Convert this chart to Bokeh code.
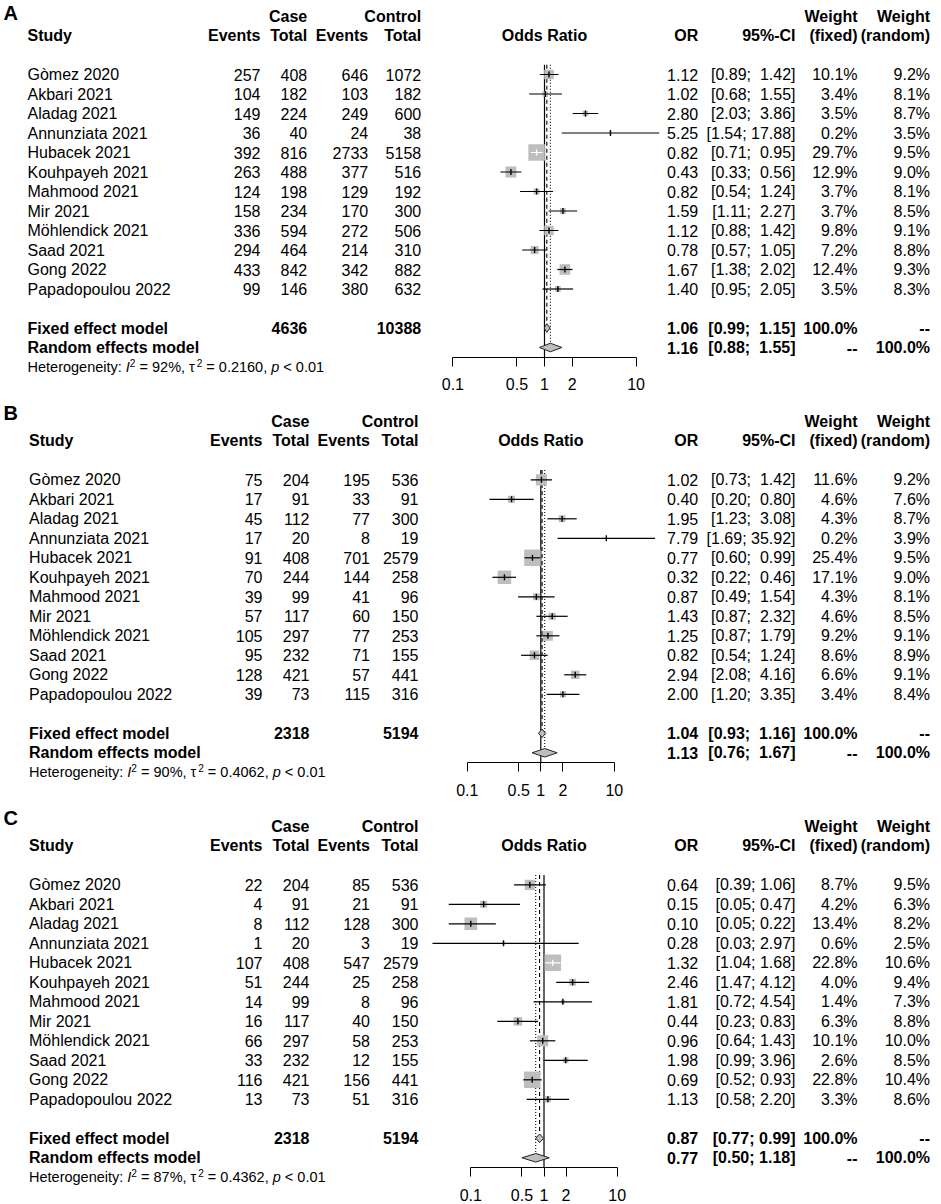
import math
from bokeh.plotting import figure
from bokeh.layouts import column
from bokeh.models import Range1d, LogAxis, FixedTicker, CustomJSTickFormatter
from bokeh.core.properties import value
from bokeh.embed import file_html
from bokeh.resources import INLINE

FONT = "Liberation Sans"

# ---------------- data ----------------
studies = ["Gòmez 2020", "Akbari 2021", "Aladag 2021", "Annunziata 2021", "Hubacek 2021",
           "Kouhpayeh 2021", "Mahmood 2021", "Mir 2021", "Möhlendick 2021", "Saad 2021",
           "Gong 2022", "Papadopoulou 2022"]
tick_values = [0.1, 0.5, 1, 2, 10]

A_case_events = [257, 104, 149, 36, 392, 263, 124, 158, 336, 294, 433, 99]
A_case_total = [408, 182, 224, 40, 816, 488, 198, 234, 594, 464, 842, 146]
A_ctrl_events = [646, 103, 249, 24, 2733, 377, 129, 170, 272, 214, 342, 380]
A_ctrl_total = [1072, 182, 600, 38, 5158, 516, 192, 300, 506, 310, 882, 632]
A_or = [1.12, 1.02, 2.80, 5.25, 0.82, 0.43, 0.82, 1.59, 1.12, 0.78, 1.67, 1.40]
A_lo = [0.89, 0.68, 2.03, 1.54, 0.71, 0.33, 0.54, 1.11, 0.88, 0.57, 1.38, 0.95]
A_hi = [1.42, 1.55, 3.86, 17.88, 0.95, 0.56, 1.24, 2.27, 1.42, 1.05, 2.02, 2.05]
A_w_fixed = [10.1, 3.4, 3.5, 0.2, 29.7, 12.9, 3.7, 3.7, 9.8, 7.2, 12.4, 3.5]
A_w_random = [9.2, 8.1, 8.7, 3.5, 9.5, 9.0, 8.1, 8.5, 9.1, 8.8, 9.3, 8.3]
A_totals = [4636, 10388]
A_fixed = [1.06, 0.99, 1.15]
A_random = [1.16, 0.88, 1.55]
A_het = ["92%", "0.2160", "< 0.01"]

B_case_events = [75, 17, 45, 17, 91, 70, 39, 57, 105, 95, 128, 39]
B_case_total = [204, 91, 112, 20, 408, 244, 99, 117, 297, 232, 421, 73]
B_ctrl_events = [195, 33, 77, 8, 701, 144, 41, 60, 77, 71, 57, 115]
B_ctrl_total = [536, 91, 300, 19, 2579, 258, 96, 150, 253, 155, 441, 316]
B_or = [1.02, 0.40, 1.95, 7.79, 0.77, 0.32, 0.87, 1.43, 1.25, 0.82, 2.94, 2.00]
B_lo = [0.73, 0.20, 1.23, 1.69, 0.60, 0.22, 0.49, 0.87, 0.87, 0.54, 2.08, 1.20]
B_hi = [1.42, 0.80, 3.08, 35.92, 0.99, 0.46, 1.54, 2.32, 1.79, 1.24, 4.16, 3.35]
B_w_fixed = [11.6, 4.6, 4.3, 0.2, 25.4, 17.1, 4.3, 4.6, 9.2, 8.6, 6.6, 3.4]
B_w_random = [9.2, 7.6, 8.7, 3.9, 9.5, 9.0, 8.1, 8.5, 9.1, 8.9, 9.1, 8.4]
B_totals = [2318, 5194]
B_fixed = [1.04, 0.93, 1.16]
B_random = [1.13, 0.76, 1.67]
B_het = ["90%", "0.4062", "< 0.01"]

C_case_events = [22, 4, 8, 1, 107, 51, 14, 16, 66, 33, 116, 13]
C_case_total = [204, 91, 112, 20, 408, 244, 99, 117, 297, 232, 421, 73]
C_ctrl_events = [85, 21, 128, 3, 547, 25, 8, 40, 58, 12, 156, 51]
C_ctrl_total = [536, 91, 300, 19, 2579, 258, 96, 150, 253, 155, 441, 316]
C_or = [0.64, 0.15, 0.10, 0.28, 1.32, 2.46, 1.81, 0.44, 0.96, 1.98, 0.69, 1.13]
C_lo = [0.39, 0.05, 0.05, 0.03, 1.04, 1.47, 0.72, 0.23, 0.64, 0.99, 0.52, 0.58]
C_hi = [1.06, 0.47, 0.22, 2.97, 1.68, 4.12, 4.54, 0.83, 1.43, 3.96, 0.93, 2.20]
C_w_fixed = [8.7, 4.2, 13.4, 0.6, 22.8, 4.0, 1.4, 6.3, 10.1, 2.6, 22.8, 3.3]
C_w_random = [9.5, 6.3, 8.2, 2.5, 10.6, 9.4, 7.3, 8.8, 10.0, 8.5, 10.4, 8.6]
C_totals = [2318, 5194]
C_fixed = [0.87, 0.77, 0.99]
C_random = [0.77, 0.50, 1.18]
C_het = ["87%", "0.4362", "< 0.01"]

# ---------------- layout (page pixels) ----------------
W = 941
ROW = 19.5
LAYOUT = {
    "A": dict(top=0, height=397, base=15.5, c1=544.0, dec=91.6, label_k=-0.15,
              study=27.0, ev=260.0, tot=306.7, cev=367.7, ctot=420.7),
    "B": dict(top=397, height=405, base=420.8, c1=540.3, dec=73.5, label_k=-0.45,
              study=28.5, ev=262.0, tot=309.0, cev=369.5, ctot=418.0),
    "C": dict(top=802, height=402, base=825.8, c1=543.5, dec=73.2, label_k=-0.45,
              study=28.5, ev=262.0, tot=309.0, cev=369.5, ctot=418.0),
}
RIGHT = dict(orx=697.7, ci=795.0, wf=857.0, wr=929.5)

CW = {' ': 0.278, ':': 0.278, ',': 0.278, '.': 0.278, '%': 0.889, '=': 0.584, '<': 0.584,
      'H': 0.722, 'e': 0.556, 't': 0.278, 'r': 0.333, 'o': 0.556, 'g': 0.556, 'n': 0.556,
      'i': 0.222, 'y': 0.5, 'I': 0.278, 'p': 0.556, 'τ': 0.52}


def tw(s, size):
    return sum(CW.get(c, 0.556) for c in s) * size


def make_panel(label, ce, ct, xe, xt, orv, lo, hi, wf, wr, totals, fixed, random_, het):
    L = LAYOUT[label]
    c1, dec = L["c1"], L["dec"]

    def X(px):
        return 10 ** ((px - c1) / dec)

    k_top = (L["top"] - L["base"]) / ROW
    k_bot = (L["top"] + L["height"] - L["base"]) / ROW
    p = figure(width=W, height=L["height"], x_axis_type="log", x_axis_location=None,
               y_axis_location=None, x_range=Range1d(X(0), X(W)),
               y_range=Range1d(k_bot, k_top), output_backend="svg", toolbar_location=None,
               min_border=0, outline_line_color=None)
    p.grid.visible = False
    p.background_fill_color = "white"
    p.border_fill_color = "white"

    def txt(xs, ys, texts, align="right", bold=False, size="16px", style=None):
        p.text(x=xs, y=ys, text=texts, text_font=value(FONT), text_font_size=size,
               text_align=align, text_baseline="middle",
               text_font_style=style if style else ("bold" if bold else "normal"),
               text_color="black")

    n = len(studies)
    rows = [3 + i for i in range(n)]
    kf, kr, kh = 16, 17, 18

    # panel label
    txt([X(3)], [L["label_k"]], [label], align="left", bold=True, size="20px")

    # headers
    txt([X(L["tot"]), X(L["ctot"]), X(RIGHT["wf"]), X(RIGHT["wr"])], [0] * 4,
        ["Case", "Control", "Weight", "Weight"], bold=True)
    txt([X(L["study"])], [1], ["Study"], align="left", bold=True)
    txt([X(L["ev"]), X(L["tot"]), X(L["cev"]), X(L["ctot"]), X(RIGHT["orx"]), X(RIGHT["ci"]),
         X(RIGHT["wf"]), X(RIGHT["wr"])], [1] * 8,
        ["Events", "Total", "Events", "Total", "OR", "95%-CI", "(fixed)", "(random)"], bold=True)
    txt([1], [1], ["Odds Ratio"], align="center", bold=True)

    # study rows
    txt([X(L["study"])] * n, rows, studies, align="left")
    txt([X(L["ev"])] * n, rows, [str(v) for v in ce])
    txt([X(L["tot"])] * n, rows, [str(v) for v in ct])
    txt([X(L["cev"])] * n, rows, [str(v) for v in xe])
    txt([X(L["ctot"])] * n, rows, [str(v) for v in xt])

    width_hi = max(len(f"{v:.2f}") for v in list(hi) + [fixed[2], random_[2]])

    def ci(a, b):
        s = f"{b:.2f}"
        return f"[{a:.2f}; " + "\u00a0" * (width_hi - len(s)) + s + "]"

    txt([X(RIGHT["orx"])] * n, rows, [f"{v:.2f}" for v in orv])
    txt([X(RIGHT["ci"])] * n, rows, [ci(a, b) for a, b in zip(lo, hi)])
    txt([X(RIGHT["wf"])] * n, rows, [f"{v:.1f}%" for v in wf])
    txt([X(RIGHT["wr"])] * n, rows, [f"{v:.1f}%" for v in wr])

    # summary rows
    txt([X(L["study"])] * 2, [kf, kr], ["Fixed effect model", "Random effects model"],
        align="left", bold=True)
    txt([X(L["tot"]), X(L["ctot"])], [kf, kf], [str(totals[0]), str(totals[1])], bold=True)
    txt([X(RIGHT["orx"])] * 2, [kf, kr], [f"{fixed[0]:.2f}", f"{random_[0]:.2f}"], bold=True)
    txt([X(RIGHT["ci"])] * 2, [kf, kr], [ci(fixed[1], fixed[2]), ci(random_[1], random_[2])],
        bold=True)
    txt([X(RIGHT["wf"])] * 2, [kf, kr], ["100.0%", "--"], bold=True)
    txt([X(RIGHT["wr"])] * 2, [kf, kr], ["--", "100.0%"], bold=True)

    # heterogeneity line
    fs = 14.5
    pieces = [("Heterogeneity: ", "normal", 1.0), ("I", "italic", 1.0), ("2", "normal", 0.7),
              (f" = {het[0]}, ", "normal", 1.0), ("τ", "normal", 1.0), ("2", "normal", 0.7),
              (f" = {het[1]}, ", "normal", 1.0), ("p", "italic", 1.0),
              (f" {het[2]}", "normal", 1.0)]
    xcur = L["study"]
    for s, st, sc in pieces:
        lead = len(s) - len(s.lstrip())
        size = fs * sc
        dy = -0.22 if sc < 1 else 0.0
        txt([X(xcur + tw(" " * lead, size))], [kh + dy], [s.strip()], align="left",
            size=f"{size:.1f}px", style=st)
        xcur += tw(s, size)

    # reference lines
    hd = 0.22
    p.segment(x0=[1], y0=[2.5], x1=[1], y1=[17.5], line_color="black", line_width=1.2)
    p.segment(x0=[fixed[0]], y0=[2.5], x1=[fixed[0]], y1=[kf - hd], line_color="black",
              line_width=1.1, line_dash="4 3")
    p.segment(x0=[random_[0]], y0=[2.5], x1=[random_[0]], y1=[kr - hd], line_color="black",
              line_width=1.1, line_dash="1 2")

    # boxes
    wmax = max(wf)
    sizes = [16.5 * math.sqrt(w / wmax) for w in wf]
    p.scatter(x=orv, y=rows, marker="square", size=sizes, fill_color="#bebebe", line_color=None)

    cols = []
    for e, a, b, sz in zip(orv, lo, hi, sizes):
        half = sz / 2 / dec
        inside = math.log10(e / a) < 0.95 * half and math.log10(b / e) < 0.95 * half
        cols.append("white" if inside else "black")
    p.segment(x0=lo, y0=rows, x1=hi, y1=rows, line_color=cols, line_width=1.2)
    p.scatter(x=orv, y=rows, marker="dash", angle=math.pi / 2, size=6, line_color=cols,
              line_width=1.4)

    # diamonds
    xs = [[fixed[1], fixed[0], fixed[2], fixed[0]], [random_[1], random_[0], random_[2], random_[0]]]
    ys = [[kf, kf - hd, kf, kf + hd], [kr, kr - hd, kr, kr + hd]]
    p.patches(xs=xs, ys=ys, fill_color="#bebebe", line_color="#222222", line_width=1)

    # axis
    ax = LogAxis(ticker=FixedTicker(ticks=tick_values),
                 formatter=CustomJSTickFormatter(code="return tick.toString();"),
                 bounds=(tick_values[0], tick_values[-1]), fixed_location=17.5,
                 major_tick_out=9, major_tick_in=0, minor_tick_out=0, minor_tick_in=0,
                 axis_line_color="black", major_tick_line_color="black",
                 major_label_text_font=FONT, major_label_text_font_size="16px",
                 major_label_text_color="black", major_label_standoff=12)
    p.add_layout(ax, "below")
    return p


pA = make_panel("A", A_case_events, A_case_total, A_ctrl_events, A_ctrl_total, A_or, A_lo, A_hi,
                A_w_fixed, A_w_random, A_totals, A_fixed, A_random, A_het)
pB = make_panel("B", B_case_events, B_case_total, B_ctrl_events, B_ctrl_total, B_or, B_lo, B_hi,
                B_w_fixed, B_w_random, B_totals, B_fixed, B_random, B_het)
pC = make_panel("C", C_case_events, C_case_total, C_ctrl_events, C_ctrl_total, C_or, C_lo, C_hi,
                C_w_fixed, C_w_random, C_totals, C_fixed, C_random, C_het)

layout = column(pA, pB, pC, spacing=0)
open("out.html", "w").write(file_html(layout, INLINE))
